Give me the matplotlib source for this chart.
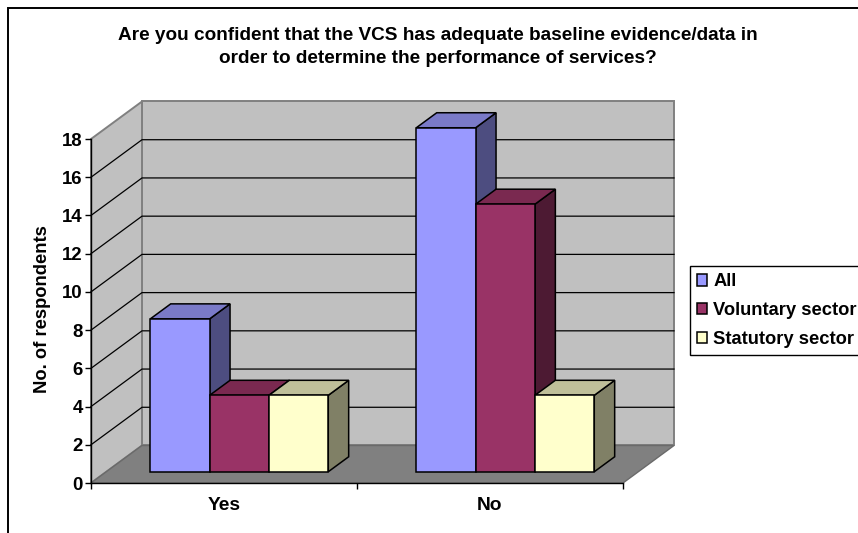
import matplotlib
import matplotlib.pyplot as plt
from matplotlib.patches import Polygon, Rectangle

matplotlib.use('Agg')

plt.rcParams['font.family'] = ['Liberation Sans', 'DejaVu Sans']
plt.rcParams['font.weight'] = 'bold'
plt.rcParams['font.size'] = 13.4

# Data
categories = ["Yes", "No"]
series_names = ["All", "Voluntary sector", "Statutory sector"]
values_all = [8, 18]
values_voluntary = [4, 14]
values_statutory = [4, 4]
y_ticks = [0, 2, 4, 6, 8, 10, 12, 14, 16, 18]

title_text = ("Are you confident that the VCS has adequate baseline evidence/data in\n"
              "order to determine the performance of services?")
y_label = "No. of respondents"

# Colours: front, top, side
front_colors = ["#9999FF", "#993366", "#FFFFCC"]
top_colors = ["#7A7AC8", "#7A2950", "#BFBF99"]
side_colors = ["#4D4D80", "#4D1A33", "#808066"]

# Oblique depth of the chart box, in axis units
DEPTH_X = 51 / 266
DEPTH_Y = 37.5 / 19.11
BAR_W = 0.223
BAR_FRONT = 0.30
BAR_BACK = 0.70
W, H = 858, 533


# Point moved back along the depth direction
def shift(x, y, d):
    return (x + d * DEPTH_X, y + d * DEPTH_Y)


def add_poly(ax, points, face, edge="black", lw=1.1, z=1):
    ax.add_patch(Polygon(points, closed=True, facecolor=face, edgecolor=edge,
                         linewidth=lw, clip_on=False, zorder=z, joinstyle='miter'))


# Walls, floor and gridlines
def draw_box(ax, x_max, y_max):
    add_poly(ax, [shift(0, 0, 1), shift(x_max, 0, 1), shift(x_max, y_max, 1), shift(0, y_max, 1)],
             "#C0C0C0", "#808080", 1.4)
    add_poly(ax, [(0, 0), shift(0, 0, 1), shift(0, y_max, 1), (0, y_max)],
             "#C0C0C0", "#808080", 1.4)
    for t in y_ticks[1:-1]:
        p0 = shift(0, t, 1)
        p1 = shift(x_max, t, 1)
        ax.plot([0, p0[0], p1[0]], [t, p0[1], p1[1]], color="black", lw=0.9,
                clip_on=False, zorder=1.1)
    add_poly(ax, [(0, 0), (x_max, 0), shift(x_max, 0, 1), shift(0, 0, 1)],
             "#808080", "#6A6A6A", 1.0, z=1.2)


# One 3D bar: side and top first, then the front face
def draw_bar(ax, x0, value, i):
    x1 = x0 + BAR_W
    f0 = shift(x0, 0, BAR_FRONT)
    f1 = shift(x1, 0, BAR_FRONT)
    t0 = shift(x0, value, BAR_FRONT)
    t1 = shift(x1, value, BAR_FRONT)
    b1 = shift(x1, 0, BAR_BACK)
    bt0 = shift(x0, value, BAR_BACK)
    bt1 = shift(x1, value, BAR_BACK)
    add_poly(ax, [f1, b1, bt1, t1], side_colors[i], z=2)
    add_poly(ax, [t0, t1, bt1, bt0], top_colors[i], z=2)
    add_poly(ax, [f0, f1, t1, t0], front_colors[i], z=2)


fig = plt.figure(figsize=(W / 100, H / 100), dpi=100, facecolor="white")

# Outer chart frame, runs past the right and bottom edges
fig.add_artist(Rectangle((7.5 / W, -0.05), 1.0, 1.05 - 7.5 / H, transform=fig.transFigure,
                         fill=False, edgecolor="black", linewidth=1.4))

ax = fig.add_axes([91 / W, (H - 483) / H, 532 / W, 344 / H])
ax.patch.set_visible(False)
ax.set_xlim(0, len(categories))
ax.set_ylim(0, 18)

draw_box(ax, len(categories), 18)

series = [values_all, values_voluntary, values_statutory]
gap = (1 - BAR_W * len(series)) / 2
for c in range(len(categories)):
    for i, vals in enumerate(series):
        draw_bar(ax, c + gap + i * BAR_W, vals[c], i)

for name in ["top", "right"]:
    ax.spines[name].set_visible(False)
ax.spines["left"].set_linewidth(1.0)
ax.spines["bottom"].set_linewidth(1.0)
ax.spines["left"].set_zorder(1.5)
ax.spines["bottom"].set_zorder(1.5)

ax.set_yticks(y_ticks)
ax.tick_params(axis='y', length=4.5, width=1.0, pad=1.5)
ax.set_xticks(range(len(categories) + 1))
ax.set_xticklabels([])
ax.tick_params(axis='x', which='major', length=4, width=1.0)
ax.set_xticks([c + 0.5 for c in range(len(categories))], minor=True)
ax.set_xticklabels(categories, minor=True, fontsize=13.8)
ax.tick_params(axis='x', which='minor', length=0, pad=10)

fig.text(438 / W, 1 - 47 / H, title_text, ha='center', va='center', linespacing=1.48, fontsize=13.7)
fig.text(42.5 / W, 1 - 309.5 / H, y_label, rotation=90, ha='center', va='center', fontsize=13.2)

handles = [Rectangle((0, 0), 1, 1, facecolor=c, edgecolor="black", linewidth=1.1)
           for c in front_colors]
leg = fig.legend(handles, series_names, loc='upper left', fontsize=13.2,
                 bbox_to_anchor=(689.5 / W, 1 - 266 / H), borderaxespad=0,
                 fancybox=False, framealpha=1, edgecolor="black",
                 handlelength=0.58, handleheight=0.58, handletextpad=0.32,
                 labelspacing=0.64, borderpad=0.40)
leg.get_frame().set_linewidth(1.0)

plt.savefig("out.png", dpi=100)
